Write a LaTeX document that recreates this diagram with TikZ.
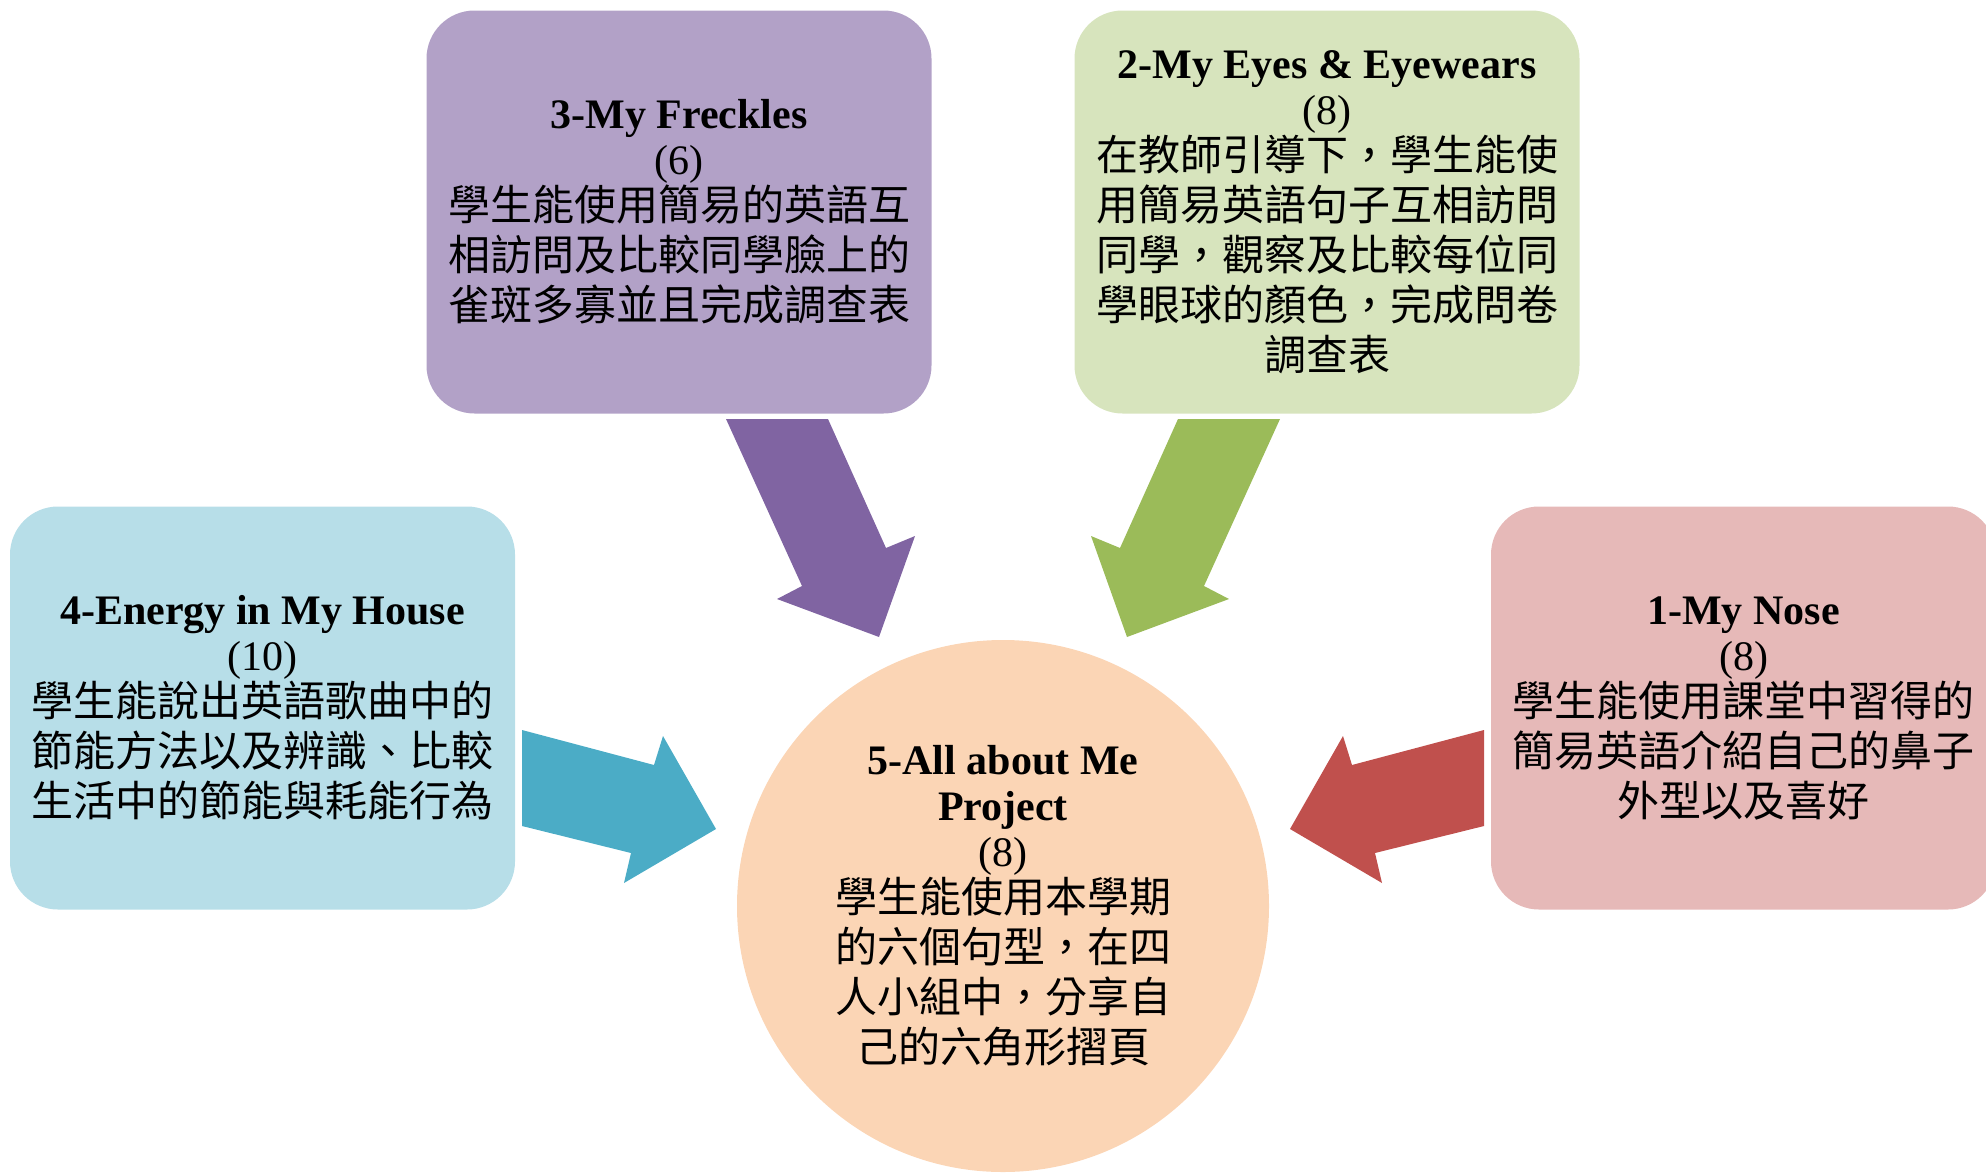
\documentclass[tikz,border=0pt]{standalone}
\usepackage{fontspec}
\setmainfont{Liberation Serif}
\newfontfamily\cjk{Noto Sans CJK TC}
\definecolor{purbox}{HTML}{B2A1C7}
\definecolor{purarr}{HTML}{8064A2}
\definecolor{grnbox}{HTML}{D7E4BD}
\definecolor{grnarr}{HTML}{9BBB59}
\definecolor{blubox}{HTML}{B7DEE8}
\definecolor{bluarr}{HTML}{4BACC6}
\definecolor{redbox}{HTML}{E6B9B8}
\definecolor{redarr}{HTML}{C0504D}
\definecolor{orgcirc}{HTML}{FBD5B5}
\begin{document}
\begin{tikzpicture}[x=1pt,y=-1pt,
  box/.style={rectangle, rounded corners=48pt, align=center, inner sep=0pt,
    minimum width=505pt, minimum height=403pt, font=\fontsize{42}{46}\selectfont},
  circ/.style={circle, align=center, inner sep=0pt, minimum size=532pt,
    font=\fontsize{42}{46}\selectfont}]
\useasboundingbox (0,0) rectangle (1986,1173);
\clip (0,0) rectangle (1986,1173);

\node[box, fill=purbox] (n3) at (679,212)
  {{\bfseries 3-My Freckles}\\(6)\\
   {\cjk 學生能使用簡易的英語互}\\[4pt]
   {\cjk 相訪問及比較同學臉上的}\\[4pt]
   {\cjk 雀斑多寡並且完成調查表}};

\node[box, fill=grnbox] (n2) at (1327,212)
  {{\bfseries 2-My Eyes \& Eyewears}\\(8)\\
   {\cjk 在教師引導下，學生能使}\\[4pt]
   {\cjk 用簡易英語句子互相訪問}\\[4pt]
   {\cjk 同學，觀察及比較每位同}\\[4pt]
   {\cjk 學眼球的顏色，完成問卷}\\[4pt]
   {\cjk 調查表}};

\node[box, fill=blubox] (n4) at (262.5,708)
  {{\bfseries 4-Energy in My House}\\(10)\\
   {\cjk 學生能說出英語歌曲中的}\\[4pt]
   {\cjk 節能方法以及辨識、比較}\\[4pt]
   {\cjk 生活中的節能與耗能行為}};

\node[box, fill=redbox] (n1) at (1743.5,708)
  {{\bfseries 1-My Nose}\\(8)\\
   {\cjk 學生能使用課堂中習得的}\\[4pt]
   {\cjk 簡易英語介紹自己的鼻子}\\[4pt]
   {\cjk 外型以及喜好}};

\node[circ, fill=orgcirc] (n5) at (1003,906)
  {{\bfseries 5-All about Me}\\{\bfseries Project}\\(8)\\
   {\cjk 學生能使用本學期}\\[4pt]
   {\cjk 的六個句型，在四}\\[4pt]
   {\cjk 人小組中，分享自}\\[4pt]
   {\cjk 己的六角形摺頁}};

% block arrows
\fill[purarr] (726,419) -- (828,419) -- (886,548) -- (915,536) -- (879,637)
  -- (777,599) -- (802,586) -- cycle;
\fill[grnarr] (1280,419) -- (1178,419) -- (1120,548) -- (1091,536) -- (1127,637)
  -- (1229,599) -- (1204,586) -- cycle;
\fill[bluarr] (522,730) -- (654,765) -- (663,736) -- (716,829) -- (624,883)
  -- (631,853) -- (522,826) -- cycle;
\fill[redarr] (1484,730) -- (1352,765) -- (1343,736) -- (1290,829) -- (1382,883)
  -- (1375,853) -- (1484,826) -- cycle;
\end{tikzpicture}
\end{document}
